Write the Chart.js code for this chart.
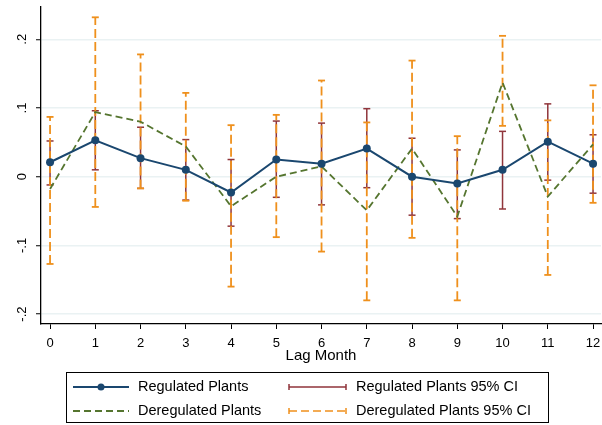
<!DOCTYPE html>
<html>
<head>
<meta charset="utf-8">
<script src="https://cdn.jsdelivr.net/npm/chart.js@4.4.0/dist/chart.umd.min.js"></script>
<style>
  html, body { margin: 0; padding: 0; background: #fff; }
  #chart { display: block; }
</style>
</head>
<body>
<canvas id="chart" width="602" height="425"></canvas>
<script>
// lag months and estimates
const lags = [0, 1, 2, 3, 4, 5, 6, 7, 8, 9, 10, 11, 12];
const regEst = [0.021, 0.053, 0.027, 0.010, -0.023, 0.025, 0.019, 0.041, 0.000, -0.010, 0.010, 0.051, 0.019];
const regLo = [-0.012, 0.010, -0.017, -0.034, -0.072, -0.030, -0.041, -0.016, -0.056, -0.061, -0.047, -0.005, -0.024];
const regHi = [0.052, 0.096, 0.072, 0.054, 0.025, 0.081, 0.078, 0.099, 0.056, 0.039, 0.066, 0.106, 0.061];
const deregEst = [-0.018, 0.094, 0.080, 0.044, -0.043, 0.000, 0.015, -0.049, 0.041, -0.058, 0.137, -0.029, 0.047];
const deregLo = [-0.127, -0.044, -0.017, -0.035, -0.160, -0.088, -0.109, -0.180, -0.089, -0.180, 0.074, -0.143, -0.038];
const deregHi = [0.087, 0.232, 0.178, 0.122, 0.075, 0.090, 0.140, 0.079, 0.169, 0.059, 0.205, 0.082, 0.133];
const yTicks = [-0.2, -0.1, 0, 0.1, 0.2];
const yTickLabels = ['-.2', '-.1', '0', '.1', '.2'];
const xTitle = 'Lag Month';

const family = '"Liberation Sans", Arial, sans-serif';
const navy = '#1a476f';
const maroon = '#90353b';
const green = '#55752f';
const orange = '#ef901c';

// each CI becomes a vertical segment, separated by null gaps
function ciPoints(lo, hi) {
  const pts = [];
  lags.forEach((x, i) => {
    pts.push({ x: x, y: lo[i] }, { x: x, y: hi[i] }, { x: x, y: null });
  });
  return pts;
}
const toXY = vals => lags.map((x, i) => ({ x: x, y: vals[i] }));

// tick labels, x title and the boxed legend
const overlay = {
  id: 'overlay',
  afterDraw(chart) {
    const ctx = chart.ctx;
    const xs = chart.scales.x;
    const ys = chart.scales.y;
    const area = chart.chartArea;
    ctx.save();
    ctx.fillStyle = '#000';
    ctx.textAlign = 'center';
    ctx.textBaseline = 'middle';
    ctx.font = '13px ' + family;
    yTicks.forEach((v, i) => {
      ctx.save();
      ctx.translate(22, ys.getPixelForValue(v));
      ctx.rotate(-Math.PI / 2);
      ctx.fillText(yTickLabels[i], 0, 0);
      ctx.restore();
    });
    lags.forEach(v => {
      ctx.fillText(String(v), xs.getPixelForValue(v), 343);
    });

    ctx.font = '15px ' + family;
    ctx.fillText(xTitle, (area.left + area.right) / 2, 356);

    // legend
    ctx.strokeStyle = '#000';
    ctx.lineWidth = 1;
    ctx.strokeRect(66.5, 372.5, 482, 50);
    const r1 = 387, r2 = 411;

    ctx.lineWidth = 2;
    ctx.strokeStyle = navy;
    ctx.beginPath(); ctx.moveTo(73, r1); ctx.lineTo(129, r1); ctx.stroke();
    ctx.fillStyle = navy;
    ctx.beginPath(); ctx.arc(101, r1, 3.5, 0, Math.PI * 2); ctx.fill();

    ctx.strokeStyle = green;
    ctx.lineWidth = 1.8;
    ctx.setLineDash([7, 4]);
    ctx.beginPath(); ctx.moveTo(73, r2); ctx.lineTo(129, r2); ctx.stroke();
    ctx.setLineDash([]);

    ctx.strokeStyle = maroon;
    ctx.lineWidth = 1.5;
    ctx.beginPath();
    ctx.moveTo(289, r1); ctx.lineTo(346, r1);
    ctx.moveTo(289, r1 - 3); ctx.lineTo(289, r1 + 3);
    ctx.moveTo(346, r1 - 3); ctx.lineTo(346, r1 + 3);
    ctx.stroke();

    ctx.strokeStyle = orange;
    ctx.beginPath();
    ctx.moveTo(289, r2 - 3); ctx.lineTo(289, r2 + 3);
    ctx.moveTo(346, r2 - 3); ctx.lineTo(346, r2 + 3);
    ctx.stroke();
    ctx.setLineDash([8, 4]);
    ctx.beginPath(); ctx.moveTo(289, r2); ctx.lineTo(346, r2); ctx.stroke();
    ctx.setLineDash([]);

    ctx.fillStyle = '#000';
    ctx.textAlign = 'left';
    ctx.font = '14.5px ' + family;
    ctx.fillText('Regulated Plants', 138, r1);
    ctx.fillText('Deregulated Plants', 138, r2);
    ctx.fillText('Regulated Plants 95% CI', 356, r1);
    ctx.fillText('Deregulated Plants 95% CI', 356, r2);
    ctx.restore();
  }
};

new Chart(document.getElementById('chart').getContext('2d'), {
  type: 'line',
  data: {
    datasets: [
      {
        label: 'Regulated Plants',
        data: toXY(regEst),
        borderColor: navy,
        backgroundColor: navy,
        borderWidth: 2,
        pointRadius: 4,
        pointBorderWidth: 0,
        tension: 0,
        order: 0
      },
      {
        label: 'Deregulated Plants',
        data: toXY(deregEst),
        borderColor: green,
        borderWidth: 1.8,
        borderDash: [7, 4],
        pointRadius: 0,
        tension: 0,
        order: 1
      },
      {
        label: 'Deregulated Plants 95% CI',
        data: ciPoints(deregLo, deregHi),
        borderColor: orange,
        backgroundColor: orange,
        borderWidth: 1.8,
        borderDash: [9, 4],
        spanGaps: false,
        pointStyle: 'line',
        pointRadius: 3.5,
        pointBorderWidth: 1.8,
        order: 2
      },
      {
        label: 'Regulated Plants 95% CI',
        data: ciPoints(regLo, regHi),
        borderColor: maroon,
        backgroundColor: maroon,
        borderWidth: 1.5,
        spanGaps: false,
        pointStyle: 'line',
        pointRadius: 3.5,
        pointBorderWidth: 1.5,
        order: 3
      }
    ]
  },
  options: {
    responsive: false,
    animation: false,
    layout: { autoPadding: false, padding: { top: 7, right: 1, left: 0, bottom: 0 } },
    plugins: { legend: { display: false }, tooltip: { enabled: false } },
    scales: {
      x: {
        type: 'linear',
        min: -0.2,
        max: 12.176,
        afterBuildTicks: s => { s.ticks = lags.map(v => ({ value: v })); },
        afterFit: s => { s.height = 101; },
        grid: { drawOnChartArea: false, drawTicks: true, tickLength: 5, tickColor: '#000', tickWidth: 1 },
        border: { color: '#000', width: 1.3 },
        ticks: { display: false }
      },
      y: {
        min: -0.2144,
        max: 0.247,
        afterBuildTicks: s => { s.ticks = yTicks.map(v => ({ value: v })); },
        afterFit: s => { s.width = 41; },
        grid: { color: '#eaf2f3', lineWidth: 1.5, drawTicks: true, tickLength: 5, tickColor: '#000', tickWidth: 1 },
        border: { color: '#000', width: 1.3 },
        ticks: { display: false }
      }
    }
  },
  plugins: [overlay]
});
</script>
</body>
</html>
